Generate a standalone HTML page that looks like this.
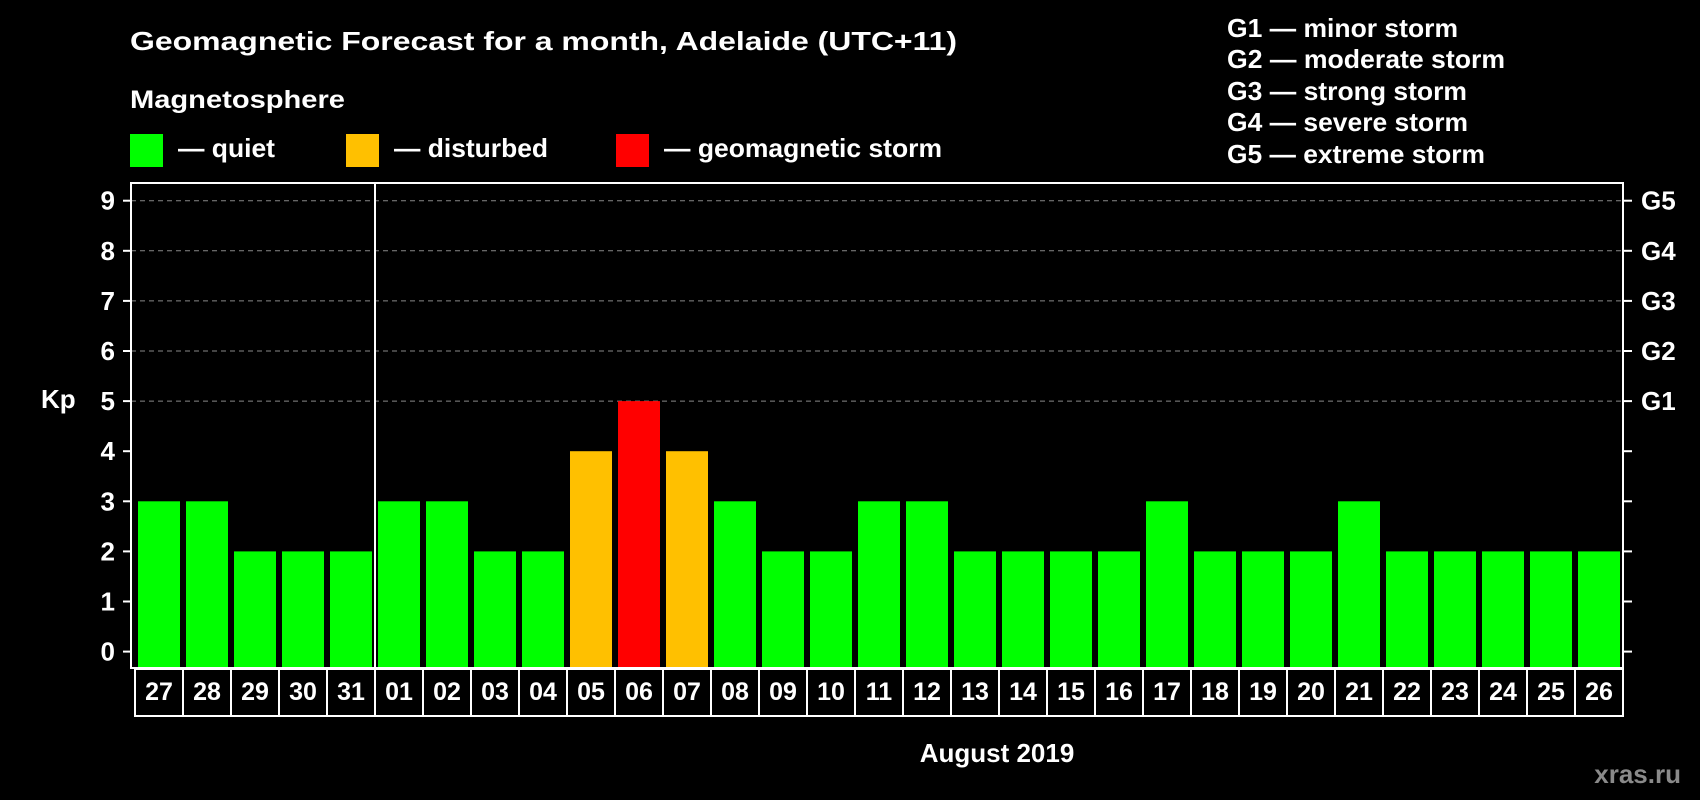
<!DOCTYPE html>
<html><head><meta charset="utf-8"><style>
html,body{margin:0;padding:0;background:#000;}
svg{display:block;font-family:"Liberation Sans",sans-serif;font-weight:bold;}
</style></head><body>
<svg id="chart" width="1700" height="800" viewBox="0 0 1700 800">
<rect width="1700" height="800" fill="#000"/>
<text x="130" y="50" font-size="26" fill="#fff" textLength="827" lengthAdjust="spacingAndGlyphs">Geomagnetic Forecast for a month, Adelaide (UTC+11)</text>
<text x="130" y="108" font-size="25" fill="#fff" textLength="215" lengthAdjust="spacingAndGlyphs">Magnetosphere</text>
<rect x="130" y="134" width="33" height="33" fill="#00ff00"/>
<text x="178" y="157" font-size="26" fill="#fff" textLength="97" lengthAdjust="spacingAndGlyphs">— quiet</text>
<rect x="346" y="134" width="33" height="33" fill="#ffc000"/>
<text x="394" y="157" font-size="26" fill="#fff" textLength="154" lengthAdjust="spacingAndGlyphs">— disturbed</text>
<rect x="616" y="134" width="33" height="33" fill="#ff0000"/>
<text x="664" y="157" font-size="26" fill="#fff" textLength="278" lengthAdjust="spacingAndGlyphs">— geomagnetic storm</text>
<g font-size="26" fill="#fff">
<text x="1227" y="37" textLength="231" lengthAdjust="spacingAndGlyphs">G1 — minor storm</text>
<text x="1227" y="68" textLength="278" lengthAdjust="spacingAndGlyphs">G2 — moderate storm</text>
<text x="1227" y="100" textLength="240" lengthAdjust="spacingAndGlyphs">G3 — strong storm</text>
<text x="1227" y="131" textLength="241" lengthAdjust="spacingAndGlyphs">G4 — severe storm</text>
<text x="1227" y="163" textLength="258" lengthAdjust="spacingAndGlyphs">G5 — extreme storm</text>
</g>
<text x="41" y="408" font-size="26" fill="#fff">Kp</text>
<text x="997" y="762" font-size="26" fill="#fff" text-anchor="middle">August 2019</text>
<text x="1681" y="783" font-size="26" fill="#8a8a8a" text-anchor="end">xras.ru</text>
<g id="grid"></g><g id="bars"></g><g id="axes"></g>
</svg>
<script>
const days = ["27","28","29","30","31","01","02","03","04","05","06","07","08","09","10","11","12","13","14","15","16","17","18","19","20","21","22","23","24","25","26"];
const kpValues = [3,3,2,2,2,3,3,2,2,4,5,4,3,2,2,3,3,2,2,2,2,3,2,2,2,3,2,2,2,2,2];
const yTicks = [0,1,2,3,4,5,6,7,8,9];
const gLabels = ["G1","G2","G3","G4","G5"];
const gLevels = [5,6,7,8,9];

const NS="http://www.w3.org/2000/svg";
const L=131,R=1623,T=183,B=668,Y0=651.6,UNIT=50.1,X0=135,STEP=48;
const y=v=>Y0-v*UNIT;
const xCell=i=>X0+i*STEP;
function mk(tag,attrs,parent){const e=document.createElementNS(NS,tag);for(const k in attrs)e.setAttribute(k,attrs[k]);parent.appendChild(e);return e;}
const grid=document.getElementById('grid'),bars=document.getElementById('bars'),axes=document.getElementById('axes');
gLevels.forEach((v,i)=>{
  const ln=mk('line',{x1:L,x2:R,y1:y(v),y2:y(v),stroke:'#888','stroke-dasharray':'5,4','stroke-width':1},grid);
  
  
  const t=mk('text',{x:1641,y:y(v)+9,'font-size':26,fill:'#fff'},axes);t.textContent=gLabels[i];
  
  
});
kpValues.forEach((v,i)=>{
  const c=v>=5?'#ff0000':(v>=4?'#ffc000':'#00ff00');
  const r=mk('rect',{x:xCell(i)+3,y:y(v),width:42,height:B-y(v),fill:c},bars);
  
  
  const cell=mk('rect',{x:xCell(i),y:669,width:STEP,height:47,fill:'none',stroke:'#fff','stroke-width':2},axes);
  
  
  const t=mk('text',{x:xCell(i)+STEP/2,y:700,'font-size':25,fill:'#fff','text-anchor':'middle'},axes);t.textContent=days[i];
  
  
});
yTicks.forEach(v=>{
  const tk=mk('line',{x1:123,x2:L,y1:y(v),y2:y(v),stroke:'#fff','stroke-width':2},axes);
  
  
  const tr=mk('line',{x1:R,x2:1632,y1:y(v),y2:y(v),stroke:'#fff','stroke-width':2},axes);
  
  
  const t=mk('text',{x:115,y:y(v)+9,'font-size':26,fill:'#fff','text-anchor':'end'},axes);t.textContent=v;
  
  
});
const fr=mk('rect',{x:L,y:T,width:R-L,height:B-T,fill:'none',stroke:'#fff','stroke-width':2},axes);


const dv=mk('line',{x1:xCell(5),x2:xCell(5),y1:T,y2:B,stroke:'#fff','stroke-width':2},axes);


</script>
</body></html>
